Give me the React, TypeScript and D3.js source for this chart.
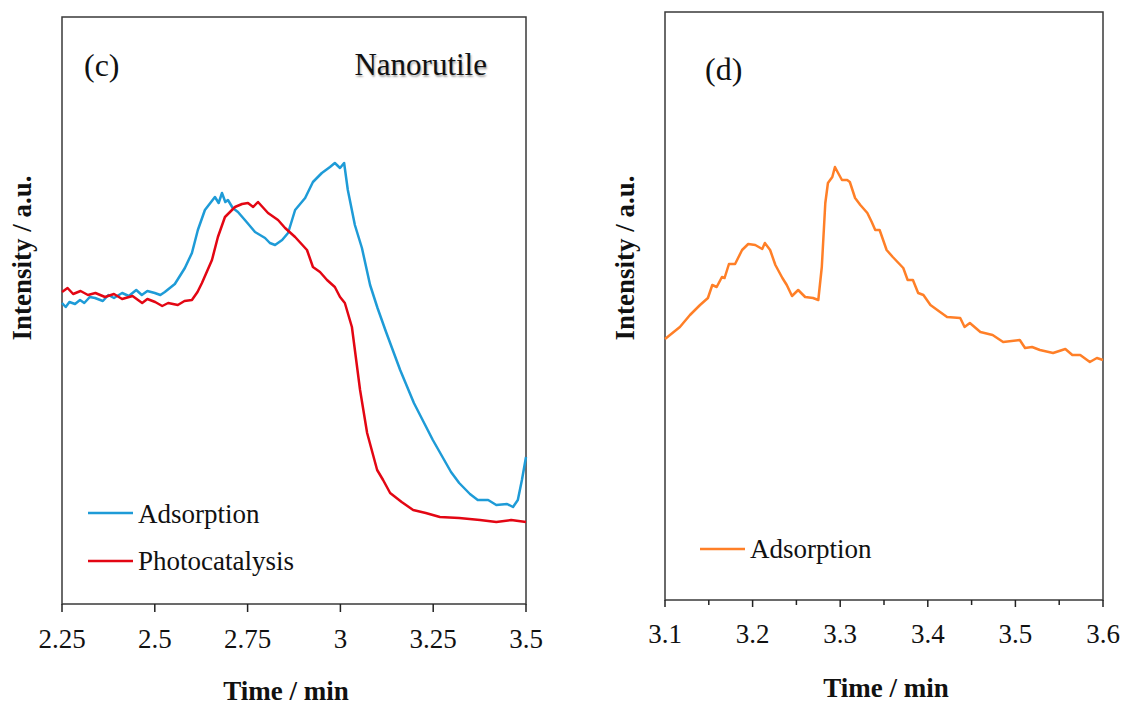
import * as d3 from "d3";

// panel (c) — Nanorutile
const adsTimeC = [2.25, 2.26, 2.27, 2.285, 2.2985, 2.31, 2.325, 2.339, 2.36, 2.375, 2.39, 2.412, 2.43, 2.45, 2.465, 2.48, 2.5, 2.515, 2.527, 2.554, 2.581, 2.6, 2.616, 2.635, 2.662, 2.672, 2.681, 2.69, 2.697, 2.71, 2.724, 2.745, 2.77, 2.797, 2.81, 2.824, 2.843, 2.859, 2.878, 2.905, 2.926, 2.95, 2.972, 2.985, 2.999, 3.01, 3.02, 3.039, 3.058, 3.08, 3.1, 3.123, 3.161, 3.198, 3.249, 3.298, 3.32, 3.349, 3.37, 3.398, 3.42, 3.449, 3.465, 3.478, 3.489, 3.5];
const adsIntC = [301, 297, 302, 300, 304, 301, 307, 306, 303, 309, 306, 311, 308, 314, 309, 313, 311, 309, 312, 320, 336, 351, 374, 394, 407, 401, 411, 402, 404, 396, 392, 383, 372, 366, 361, 359, 364, 371, 394, 406, 422, 431, 437, 441, 436, 441, 414, 379, 356, 319, 296, 272, 234, 201, 164, 132, 121, 110, 104, 104, 99, 100, 97, 104, 124, 147];
const photoTimeC = [2.25, 2.265, 2.28, 2.3, 2.32, 2.34, 2.366, 2.39, 2.412, 2.44, 2.466, 2.48, 2.501, 2.52, 2.536, 2.562, 2.58, 2.6, 2.615, 2.627, 2.654, 2.67, 2.689, 2.716, 2.735, 2.751, 2.765, 2.778, 2.805, 2.832, 2.851, 2.878, 2.91, 2.926, 2.945, 2.964, 2.985, 2.999, 3.012, 3.031, 3.053, 3.072, 3.099, 3.115, 3.134, 3.165, 3.196, 3.23, 3.268, 3.32, 3.376, 3.42, 3.46, 3.5];
const photoIntC = [312, 316, 310, 313, 309, 311, 307, 310, 305, 308, 301, 305, 302, 298, 301, 299, 303, 304, 312, 321, 344, 367, 387, 397, 400, 401, 397, 402, 391, 384, 376, 367, 354, 337, 332, 324, 317, 307, 301, 277, 214, 171, 134, 124, 111, 102, 94, 91, 87, 86, 84, 82, 84, 82];
const ticksC = [2.25, 2.5, 2.75, 3, 3.25, 3.5];

// panel (d)
const adsTimeD = [3.1, 3.117, 3.1285, 3.14, 3.149, 3.154, 3.159, 3.165, 3.168, 3.173, 3.18, 3.188, 3.195, 3.203, 3.211, 3.214, 3.22, 3.226, 3.234, 3.239, 3.245, 3.252, 3.26, 3.269, 3.275, 3.279, 3.283, 3.286, 3.291, 3.294, 3.297, 3.302, 3.308, 3.311, 3.317, 3.323, 3.331, 3.336, 3.34, 3.345, 3.353, 3.36, 3.372, 3.377, 3.383, 3.389, 3.395, 3.403, 3.414, 3.422, 3.437, 3.442, 3.448, 3.46, 3.474, 3.486, 3.505, 3.511, 3.519, 3.528, 3.543, 3.557, 3.565, 3.574, 3.585, 3.593, 3.6];
const adsIntD = [261, 273, 285, 295, 302, 315, 313, 323, 322, 336, 336, 350, 356, 355, 351, 357, 350, 335, 322, 315, 304, 310, 303, 302, 300, 333, 397, 417, 423, 433, 428, 420, 420, 418, 402, 395, 387, 378, 370, 370, 350, 343, 332, 320, 320, 307, 305, 295, 288, 283, 282, 273, 277, 268, 265, 258, 260, 252, 253, 250, 247, 251, 245, 245, 238, 242, 240];
const ticksD = [3.1, 3.2, 3.3, 3.4, 3.5, 3.6];
const minorTicksD = [3.15, 3.25, 3.35, 3.45, 3.55];

const BLUE = "#1e9bd7";
const RED = "#e30613";
const ORANGE = "#ff7f27";
const FONT = "'Liberation Serif', 'Times New Roman', serif";

type P = { t: number; v: number };
const zip = (t: number[], v: number[]): P[] => t.map((d, i) => ({ t: d, v: v[i] }));

export default function App() {
  const xC = d3.scaleLinear().domain([2.25, 3.5]).range([62, 526]);
  const yC = d3.scaleLinear().domain([0, 587]).range([604, 17]);
  const xD = d3.scaleLinear().domain([3.1, 3.6]).range([665, 1103]);
  const yD = d3.scaleLinear().domain([0, 588]).range([600, 12]);

  const lineC = d3.line<P>().x((d) => xC(d.t)).y((d) => yC(d.v));
  const lineD = d3.line<P>().x((d) => xD(d.t)).y((d) => yD(d.v));

  return (
    <svg width={1121} height={709} style={{ position: "absolute", left: 0, top: 0, background: "#fff" }} fontFamily={FONT}>
      {/* panel c */}
      <rect x={62} y={17} width={464} height={587} fill="none" stroke="#3a3a3a" strokeWidth={1.5} />
      {ticksC.map((t) => (
        <g key={t}>
          <line x1={xC(t)} x2={xC(t)} y1={604} y2={612} stroke="#222" strokeWidth={1.5} />
          <text x={xC(t)} y={648} fontSize={27} textAnchor="middle" fill="#111">{t}</text>
        </g>
      ))}
      <text x={286} y={700} fontSize={27} fontWeight="bold" textAnchor="middle" fill="#111">Time / min</text>
      <text transform="translate(31,258) rotate(-90)" fontSize={27} fontWeight="bold" textAnchor="middle" fill="#111">Intensity / a.u.</text>
      <path d={lineC(zip(adsTimeC, adsIntC)) ?? ""} fill="none" stroke={BLUE} strokeWidth={2.5} strokeLinejoin="round" />
      <path d={lineC(zip(photoTimeC, photoIntC)) ?? ""} fill="none" stroke={RED} strokeWidth={2.5} strokeLinejoin="round" />
      <text x={84} y={76} fontSize={32} fill="#111">(c)</text>
      <text x={487} y={75} fontSize={31} textAnchor="end" fill="#111" style={{ textShadow: "1px 2px 2px rgba(0,0,0,0.35)" }}>Nanorutile</text>
      <line x1={88} x2={133} y1={513} y2={513} stroke={BLUE} strokeWidth={2.5} />
      <text x={138} y={523} fontSize={27} fill="#111">Adsorption</text>
      <line x1={88} x2={133} y1={561} y2={561} stroke={RED} strokeWidth={2.5} />
      <text x={138} y={570} fontSize={27} fill="#111">Photocatalysis</text>

      {/* panel d */}
      <rect x={665} y={12} width={438} height={588} fill="none" stroke="#3a3a3a" strokeWidth={1.5} />
      {ticksD.map((t) => (
        <g key={t}>
          <line x1={xD(t)} x2={xD(t)} y1={600} y2={607} stroke="#222" strokeWidth={1.5} />
          <text x={xD(t)} y={643} fontSize={27} textAnchor="middle" fill="#111">{t}</text>
        </g>
      ))}
      {minorTicksD.map((t) => (
        <line key={t} x1={xD(t)} x2={xD(t)} y1={600} y2={605} stroke="#222" strokeWidth={1.5} />
      ))}
      <text x={886} y={697} fontSize={27} fontWeight="bold" textAnchor="middle" fill="#111">Time / min</text>
      <text transform="translate(634,258) rotate(-90)" fontSize={27} fontWeight="bold" textAnchor="middle" fill="#111">Intensity / a.u.</text>
      <path d={lineD(zip(adsTimeD, adsIntD)) ?? ""} fill="none" stroke={ORANGE} strokeWidth={2.5} strokeLinejoin="round" />
      <text x={705} y={80} fontSize={32} fill="#111">(d)</text>
      <line x1={700} x2={745} y1={549} y2={549} stroke={ORANGE} strokeWidth={2.5} />
      <text x={750} y={558} fontSize={27} fill="#111">Adsorption</text>
    </svg>
  );
}
